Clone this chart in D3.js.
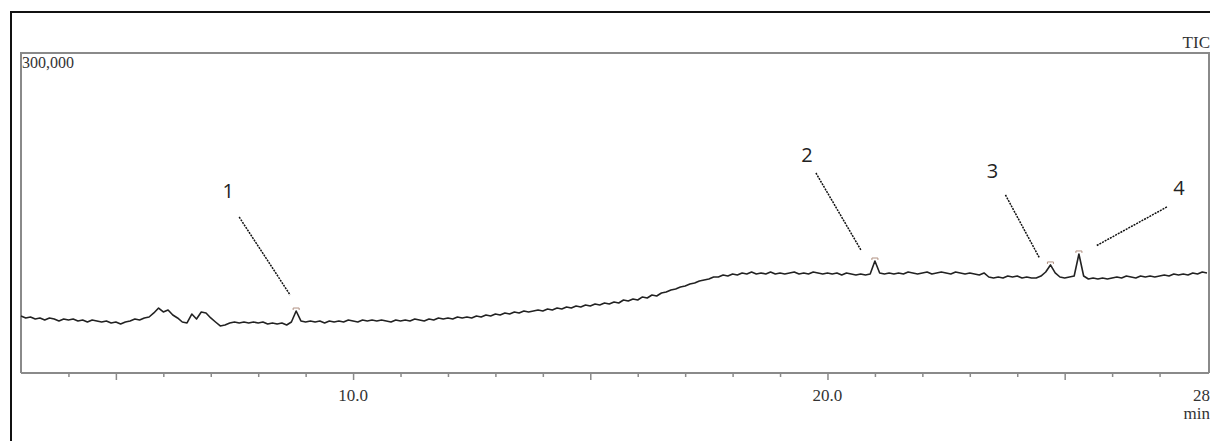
<!DOCTYPE html>
<html>
<head>
<meta charset="utf-8">
<script src="https://cdn.jsdelivr.net/npm/d3@7"></script>
<style>
  html, body { margin: 0; padding: 0; background: #fff; overflow: hidden; }
</style>
</head>
<body>
<svg id="chart" width="1210" height="441"></svg>
<script>
// retention time grid (min), one reading every 0.1 min from 3.0 to 28.0
var startTime = 3.0;
var stepTime = 0.1;

// TIC intensity, in thousands of counts
var intensity = [
  53.4, 51.6, 52.5, 50.6, 51.6, 49.7, 51.6, 50.6, 48.8, 50.6,
  49.7, 50.6, 48.8, 49.7, 47.8, 49.7, 48.8, 47.8, 48.8, 46.9,
  47.8, 45.9, 47.8, 48.8, 50.6, 49.7, 51.6, 52.5, 56.3, 60.9,
  57.2, 59.1, 54.4, 51.6, 47.8, 46.9, 55.3, 50.6, 57.2, 56.3,
  51.6, 47.8, 44.1, 45.0, 46.9, 47.8, 46.9, 47.8, 46.9, 47.8,
  46.9, 47.8, 45.9, 46.9, 45.9, 46.9, 45.0, 47.8, 58.1, 48.8,
  47.8, 48.8, 47.8, 48.8, 46.9, 48.8, 47.8, 48.8, 47.8, 49.7,
  48.8, 47.8, 49.7, 48.8, 49.7, 48.8, 49.7, 48.8, 47.8, 49.7,
  48.8, 49.7, 48.8, 50.6, 49.7, 48.8, 50.6, 49.7, 51.6, 50.6,
  51.6, 50.6, 52.5, 51.6, 52.5, 51.6, 53.4, 52.5, 54.4, 53.4,
  55.3, 54.4, 56.3, 55.3, 57.2, 56.3, 58.1, 57.2, 58.1, 59.1,
  58.1, 60.0, 59.1, 60.9, 60.0, 61.9, 60.9, 62.8, 61.9, 63.8,
  62.8, 64.7, 63.8, 65.6, 64.7, 66.6, 65.6, 68.4, 67.5, 69.4,
  68.4, 71.3, 70.3, 73.1, 72.2, 75.0, 75.9, 77.8, 78.8, 80.6,
  81.6, 83.4, 84.4, 86.3, 87.2, 88.1, 90.0, 90.0, 91.9, 90.9,
  92.8, 91.9, 93.8, 92.8, 94.7, 92.8, 93.8, 92.8, 94.7, 92.8,
  93.8, 92.8, 93.8, 94.7, 92.8, 93.8, 92.8, 94.7, 93.8, 92.8,
  93.8, 92.8, 93.8, 91.9, 93.8, 92.8, 91.9, 92.8, 91.9, 92.8,
  105.0, 93.8, 92.8, 93.8, 92.8, 93.8, 92.8, 94.7, 93.8, 92.8,
  93.8, 94.7, 92.8, 93.8, 94.7, 93.8, 92.8, 94.7, 93.8, 92.8,
  93.8, 92.8, 91.9, 93.8, 90.0, 89.1, 90.0, 89.1, 90.9, 90.0,
  90.9, 89.1, 90.0, 89.1, 89.1, 90.9, 94.7, 101.3, 93.8, 90.0,
  89.1, 90.0, 90.9, 111.6, 90.9, 88.1, 89.1, 88.1, 89.1, 88.1,
  89.1, 90.0, 89.1, 90.9, 90.0, 89.1, 90.9, 90.0, 90.9, 90.0,
  90.9, 91.9, 90.9, 92.8, 91.9, 92.8, 91.9, 93.8, 92.8, 94.7,
  93.8
];

// labelled peaks
var peakTimes = [8.8, 21.0, 24.7, 25.3];
var peakNames = ['1', '2', '3', '4'];

// axis ticks
var majorTicks = [5, 10, 15, 20, 25];
var tickLabels = [10, 20];
var yTopLabel = '300,000';

var svg = d3.select('#chart');

var plotLeft = 21, plotRight = 1209, plotTop = 53, plotBottom = 373;
var serif = '"Liberation Serif", "Times New Roman", serif';

var x = d3.scaleLinear().domain([3, 28]).range([plotLeft, 1207]);
var y = d3.scaleLinear().domain([0, 300]).range([plotBottom, plotTop]);

var trace = intensity.map(function(v, i) {
  return { t: startTime + i * stepTime, v: v };
});

// outer frame
svg.append('rect')
  .attr('x', 11)
  .attr('y', 12)
  .attr('width', 1220)
  .attr('height', 460)
  .style('fill', 'none')
  .style('stroke', '#111')
  .style('stroke-width', 2);

// plot box
svg.append('path')
  .attr('d', 'M' + plotLeft + ',' + plotBottom + 'V' + plotTop + 'H' + plotRight + 'V' + plotBottom)
  .style('fill', 'none')
  .style('stroke', '#8a8a8a')
  .style('stroke-width', 2);

// x axis
var xAxis = d3.axisBottom(x)
  .tickValues(d3.range(4, 28, 1))
  .tickSize(4)
  .tickFormat('');

var gx = svg.append('g')
  .attr('transform', 'translate(0,' + plotBottom + ')')
  .call(xAxis);

gx.select('.domain')
  .attr('d', 'M' + plotLeft + ',0H' + plotRight)
  .style('stroke', '#8a8a8a')
  .style('stroke-width', 2);

gx.selectAll('.tick line')
  .style('stroke', '#8a8a8a')
  .style('stroke-width', 1.5)
  .attr('y2', function(d) { return majorTicks.indexOf(d) >= 0 ? 7 : 4; });

svg.selectAll('.xlab')
  .data(tickLabels)
  .enter().append('text')
  .attr('class', 'xlab')
  .attr('x', function(d) { return x(d); })
  .attr('y', 401)
  .attr('text-anchor', 'middle')
  .style('font-family', serif)
  .style('font-size', '17px')
  .style('fill', '#333')
  .text(function(d) { return d3.format('.1f')(d); });

svg.append('text')
  .attr('x', 1210)
  .attr('y', 401)
  .attr('text-anchor', 'end')
  .style('font-family', serif)
  .style('font-size', '17px')
  .style('fill', '#333')
  .text('28');

svg.append('text')
  .attr('x', 1210)
  .attr('y', 419)
  .attr('text-anchor', 'end')
  .style('font-family', serif)
  .style('font-size', '17px')
  .style('fill', '#333')
  .text('min');

svg.append('text')
  .attr('x', 22)
  .attr('y', 68)
  .style('font-family', serif)
  .style('font-size', '16px')
  .style('fill', '#333')
  .text(yTopLabel);

svg.append('text')
  .attr('x', 1210)
  .attr('y', 48)
  .attr('text-anchor', 'end')
  .style('font-family', serif)
  .style('font-size', '17px')
  .style('fill', '#333')
  .text('TIC');

// chromatogram trace
var line = d3.line()
  .x(function(d) { return x(d.t); })
  .y(function(d) { return y(d.v); });

svg.append('path')
  .datum(trace)
  .attr('d', line)
  .style('fill', 'none')
  .style('stroke', '#222')
  .style('stroke-width', 1.6)
  .style('stroke-linejoin', 'round');

// peak markers and callouts
var peaks = peakTimes.map(function(t, i) {
  var idx = Math.round((t - startTime) / stepTime);
  return { t: t, v: intensity[idx], name: peakNames[i] };
});

// callout offsets from peak apex (px): label, line start, line end
var callouts = [
  { lx: -68, ly: -118, x1: -57, y1: -94, x2: -6, y2: -16 },
  { lx: -68, ly: -104, x1: -59, y1: -88, x2: -14, y2: -11 },
  { lx: -58, ly: -92, x1: -45, y1: -70, x2: -11, y2: -7 },
  { lx: 100, ly: -64, x1: 88, y1: -47, x2: 17, y2: -8 }
];

svg.selectAll('.mark')
  .data(peaks)
  .enter().append('path')
  .attr('class', 'mark')
  .attr('d', function(d) {
    var px = x(d.t), py = y(d.v) - 3;
    return 'M' + (px - 3) + ',' + (py + 2) + 'V' + py + 'H' + (px + 3) + 'V' + (py + 2);
  })
  .style('fill', 'none')
  .style('stroke', '#b09080')
  .style('stroke-width', 1);

svg.selectAll('.leader')
  .data(peaks)
  .enter().append('line')
  .attr('class', 'leader')
  .attr('x1', function(d, i) { return x(d.t) + callouts[i].x1; })
  .attr('y1', function(d, i) { return y(d.v) + callouts[i].y1; })
  .attr('x2', function(d, i) { return x(d.t) + callouts[i].x2; })
  .attr('y2', function(d, i) { return y(d.v) + callouts[i].y2; })
  .style('stroke', '#111')
  .style('stroke-width', 1.5)
  .style('stroke-dasharray', '2,1');

svg.selectAll('.peaklab')
  .data(peaks)
  .enter().append('text')
  .attr('class', 'peaklab')
  .attr('x', function(d, i) { return x(d.t) + callouts[i].lx; })
  .attr('y', function(d, i) { return y(d.v) + callouts[i].ly; })
  .attr('text-anchor', 'middle')
  .attr('dominant-baseline', 'middle')
  .style('font-family', '"Open Sans", sans-serif')
  .style('font-size', '20px')
  .style('fill', '#222')
  .text(function(d) { return d.name; });
</script>
</body>
</html>
